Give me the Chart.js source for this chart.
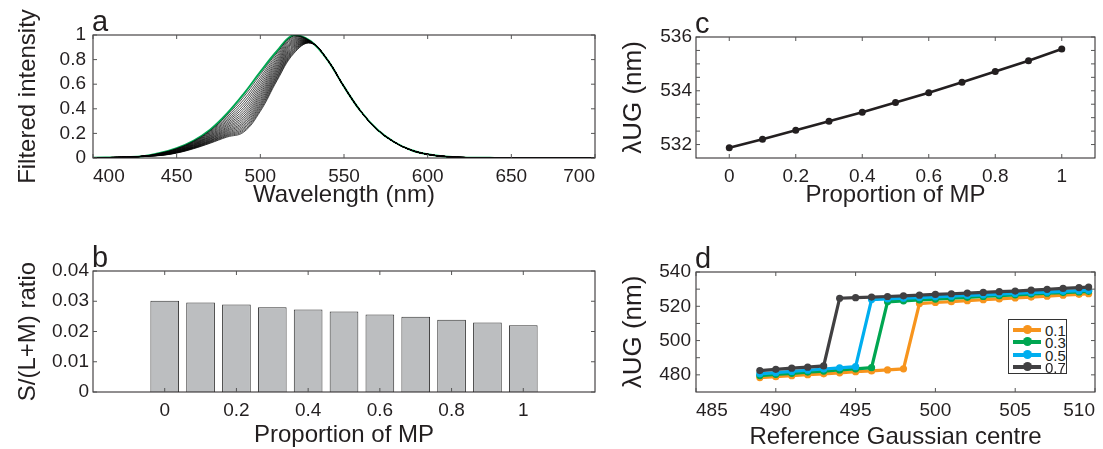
<!DOCTYPE html>
<html>
<head>
<meta charset="utf-8">
<title>Macular pigment filtering</title>
<script src="https://cdn.jsdelivr.net/npm/chart.js@4.4.0/dist/chart.umd.min.js"></script>
<style>
  body { margin: 0; background: #fff; }
  #fig { position: relative; width: 1103px; height: 449px; overflow: hidden; font-family: "Liberation Sans", Arial, sans-serif; color: #231f20; }
  .panel { position: absolute; }
  #legend { position: absolute; left: 1008px; top: 319px; width: 57px; height: 53px; border: 1px solid #333; background: #fff; font-size: 15px; }
  .row { position: absolute; left: 0; width: 57px; height: 12px; }
  .swatch { position: absolute; left: 4px; top: 4px; width: 28px; height: 4px; }
  .dot { position: absolute; left: 14px; top: 2px; width: 9px; height: 9px; border-radius: 50%; margin-top: -1px; }
  .row span { position: absolute; left: 36px; top: -1px; line-height: 15px; }
</style>
</head>
<body>
<div id="fig">
  <div class="panel" style="left:0;top:0"><canvas id="chartA" width="610" height="222"></canvas></div>
  <div class="panel" style="left:0;top:225px"><canvas id="chartB" width="610" height="224"></canvas></div>
  <div class="panel" style="left:610px;top:0"><canvas id="chartC" width="493" height="222"></canvas></div>
  <div class="panel" style="left:610px;top:225px"><canvas id="chartD" width="493" height="224"></canvas></div>
  <div id="legend"></div>
</div>
<script>
// ---- panel a: filtered spectra ----
const wlHead = [400, 420, 430];
const headVals = [0.002, 0.007, 0.014];
const wlFan = [440, 450, 460, 470, 480, 490, 500, 510, 520, 530];
const wlTail = [540, 550, 560, 570, 580, 590, 600, 610, 620, 640, 670, 700];
const tailVals = [0.80, 0.58, 0.38, 0.23, 0.13, 0.065, 0.03, 0.013, 0.005, 0.001, 0, 0];
const greenFan = [0.040, 0.080, 0.140, 0.230, 0.360, 0.520, 0.700, 0.870, 1.000, 0.950];
// one row per filtered curve, columns follow wlFan
const blackFan = [
  [0.039, 0.077, 0.136, 0.222, 0.346, 0.496, 0.678, 0.855, 0.992, 0.949],
  [0.037, 0.074, 0.131, 0.215, 0.333, 0.473, 0.656, 0.841, 0.983, 0.948],
  [0.036, 0.072, 0.127, 0.208, 0.320, 0.451, 0.636, 0.827, 0.975, 0.948],
  [0.035, 0.069, 0.123, 0.201, 0.307, 0.430, 0.616, 0.813, 0.966, 0.947],
  [0.033, 0.067, 0.119, 0.194, 0.296, 0.410, 0.596, 0.799, 0.958, 0.946],
  [0.032, 0.064, 0.115, 0.187, 0.284, 0.391, 0.577, 0.786, 0.950, 0.945],
  [0.031, 0.062, 0.111, 0.181, 0.273, 0.372, 0.559, 0.773, 0.942, 0.944],
  [0.030, 0.060, 0.108, 0.175, 0.263, 0.355, 0.541, 0.760, 0.934, 0.943],
  [0.029, 0.058, 0.104, 0.169, 0.252, 0.338, 0.524, 0.747, 0.926, 0.943],
  [0.028, 0.056, 0.101, 0.163, 0.243, 0.323, 0.508, 0.734, 0.918, 0.942],
  [0.027, 0.054, 0.098, 0.158, 0.233, 0.308, 0.492, 0.722, 0.910, 0.941],
  [0.026, 0.052, 0.094, 0.153, 0.224, 0.293, 0.476, 0.710, 0.903, 0.940],
  [0.025, 0.050, 0.091, 0.147, 0.216, 0.280, 0.461, 0.698, 0.895, 0.939],
  [0.024, 0.048, 0.088, 0.142, 0.207, 0.267, 0.446, 0.686, 0.887, 0.939],
  [0.023, 0.046, 0.086, 0.138, 0.199, 0.254, 0.432, 0.674, 0.880, 0.938],
  [0.022, 0.045, 0.083, 0.133, 0.191, 0.242, 0.419, 0.663, 0.872, 0.937],
  [0.022, 0.043, 0.080, 0.129, 0.184, 0.231, 0.405, 0.652, 0.865, 0.936],
  [0.021, 0.042, 0.078, 0.124, 0.177, 0.220, 0.392, 0.641, 0.857, 0.935],
  [0.020, 0.040, 0.075, 0.120, 0.170, 0.210, 0.380, 0.630, 0.850, 0.935]
];
const wlTicks = [400, 450, 500, 550, 600, 650, 700];
const intensityTicks = [0, 0.2, 0.4, 0.6, 0.8, 1];

// ---- panel b: S/(L+M) ratio ----
const mpProp = [0, 0.1, 0.2, 0.3, 0.4, 0.5, 0.6, 0.7, 0.8, 0.9, 1];
const sRatio = [0.0302, 0.0296, 0.0289, 0.0280, 0.0273, 0.0266, 0.0256, 0.0249, 0.0239, 0.0230, 0.0221];
const mpTicks = [0, 0.2, 0.4, 0.6, 0.8, 1];
const ratioTicks = [0, 0.01, 0.02, 0.03, 0.04];

// ---- panel c: unique green vs MP ----
const lambdaUG = [531.88, 532.2, 532.53, 532.87, 533.2, 533.56, 533.93, 534.32, 534.72, 535.12, 535.55];
const lambdaTicks = [532, 532.5, 533, 533.5, 534, 534.5, 535, 535.5, 536];

// ---- panel d: unique green vs reference Gaussian centre ----
const centres = [489, 490, 491, 492, 493, 494, 495, 496, 497, 498, 499, 500, 501, 502, 503, 504, 505, 506, 507, 508, 509, 509.6];
const ug01 = [478.4, 478.9, 479.5, 480.1, 480.6, 481.2, 481.8, 482.3, 482.9, 483.5,
  521.6, 522.2, 522.7, 523.3, 523.8, 524.3, 524.9, 525.4, 525.9, 526.5, 527.0, 527.3];
const ug03 = [479.6, 480.3, 480.9, 481.6, 482.2, 482.9, 483.5, 484.2,
  522.6, 523.2, 523.7, 524.2, 524.7, 525.2, 525.7, 526.2, 526.7, 527.1, 527.6, 528.0, 528.4, 528.7];
const ug05 = [480.6, 481.3, 482.0, 482.7, 483.4, 484.1, 484.8,
  523.9, 524.3, 524.7, 525.1, 525.5, 525.9, 526.3, 526.7, 527.1, 527.5, 527.9, 528.3, 528.7, 529.1, 529.4];
const ug07 = [482.5, 483.2, 483.9, 484.5, 485.2,
  524.7, 525.0, 525.4, 525.7, 526.1, 526.5, 526.9, 527.3, 527.7, 528.1, 528.5, 528.9, 529.4, 529.9, 530.4, 530.9, 531.2];
const seriesNames = ['0.1', '0.3', '0.5', '0.7'];
const seriesColors = ['#f7941d', '#00a651', '#00aeef', '#414042'];
const centreTicks = [485, 490, 495, 500, 505, 510];
const ugTicks = [480, 490, 500, 510, 520, 530, 540];

Chart.defaults.font.family = '"Liberation Sans", Arial, sans-serif';
Chart.defaults.color = '#231f20';

// MATLAB style box with inward ticks on all sides, plus the panel letter
const framePlugin = {
  id: 'frame',
  afterDraw(chart, args, opts) {
    const { ctx, chartArea: a } = chart;
    const x = chart.scales.x, y = chart.scales.y;
    ctx.save();
    ctx.strokeStyle = '#231f20';
    ctx.lineWidth = 1;
    ctx.strokeRect(a.left, a.top, a.width, a.height);
    ctx.strokeStyle = '#555';
    ctx.beginPath();
    x.ticks.forEach(t => {
      const p = x.getPixelForValue(t.value);
      ctx.moveTo(p, a.bottom); ctx.lineTo(p, a.bottom - 4);
      ctx.moveTo(p, a.top); ctx.lineTo(p, a.top + 4);
    });
    y.ticks.forEach(t => {
      const p = y.getPixelForValue(t.value);
      ctx.moveTo(a.left, p); ctx.lineTo(a.left + 4, p);
      ctx.moveTo(a.right, p); ctx.lineTo(a.right - 4, p);
    });
    ctx.stroke();
    ctx.fillStyle = '#231f20';
    ctx.font = '29px "Liberation Sans", Arial, sans-serif';
    ctx.textBaseline = 'alphabetic';
    ctx.fillText(opts.letter, a.left - 1, a.top - 4);
    ctx.restore();
  }
};

function makeScale(o) {
  return {
    type: 'linear',
    min: o.min,
    max: o.max,
    offset: false,
    grid: { display: false, drawTicks: false },
    border: { display: false },
    afterBuildTicks: s => { s.ticks = o.ticks.map(v => ({ value: v })); },
    afterFit: s => {
      if (o.width) s.width = o.width;
      if (o.height) s.height = o.height;
    },
    ticks: {
      autoSkip: false,
      maxRotation: 0,
      padding: o.pad,
      align: o.align || 'center',
      font: { size: 19 },
      callback: o.label || (v => String(v))
    },
    title: {
      display: true,
      text: o.title,
      font: { size: o.titleSize || 24 },
      padding: o.titlePad
    }
  };
}

function baseOptions(letter, padding, scales) {
  return {
    responsive: false,
    animation: false,
    layout: { padding: padding },
    plugins: { legend: { display: false }, tooltip: { enabled: false }, frame: { letter: letter } },
    scales: scales
  };
}

// panel a: green (unfiltered) underneath, filtered curves on top
const greenDataset = {
  data: wlHead.map((w, i) => ({ x: w, y: headVals[i] }))
    .concat(wlFan.map((w, i) => ({ x: w, y: greenFan[i] })))
    .concat(wlTail.map((w, i) => ({ x: w, y: tailVals[i] }))),
  borderColor: '#00a651',
  borderWidth: 2,
  pointRadius: 0,
  tension: 0.4,
  order: 1
};
const fanDatasets = blackFan.map(row => ({
  data: wlHead.map((w, i) => ({ x: w, y: headVals[i] }))
    .concat(wlFan.map((w, i) => ({ x: w, y: row[i] })))
    .concat(wlTail.map((w, i) => ({ x: w, y: tailVals[i] }))),
  borderColor: '#000',
  borderWidth: 0.7,
  pointRadius: 0,
  tension: 0.4,
  order: 0
}));

new Chart(document.getElementById('chartA'), {
  type: 'line',
  data: { datasets: [greenDataset].concat(fanDatasets) },
  options: baseOptions('a', { top: 35, right: 15, left: 0, bottom: 0 }, {
    x: makeScale({ min: 400, max: 700, ticks: wlTicks, height: 64, pad: 7, align: 'inner',
      title: 'Wavelength (nm)', titlePad: { top: 0, bottom: 12 } }),
    y: makeScale({ min: 0, max: 1, ticks: intensityTicks, width: 93, pad: 7,
      title: 'Filtered intensity', titlePad: { top: 14, bottom: 0 } })
  }),
  plugins: [framePlugin]
});

// panel b
new Chart(document.getElementById('chartB'), {
  type: 'bar',
  data: {
    datasets: [{
      data: mpProp.map((p, i) => ({ x: p, y: sRatio[i] })),
      backgroundColor: '#bcbec0',
      borderColor: '#333',
      borderWidth: 1,
      barPercentage: 0.8,
      categoryPercentage: 1
    }]
  },
  options: baseOptions('b', { top: 46, right: 15, left: 0, bottom: 0 }, {
    x: makeScale({ min: -0.2, max: 1.2, ticks: mpTicks, height: 57, pad: 7,
      title: 'Proportion of MP', titlePad: { top: 0, bottom: -1 } }),
    y: makeScale({ min: 0, max: 0.04, ticks: ratioTicks, width: 93, pad: 4,
      title: 'S/(L+M) ratio', titlePad: { top: 14, bottom: 0 } })
  }),
  plugins: [framePlugin]
});

// panel c
new Chart(document.getElementById('chartC'), {
  type: 'line',
  data: {
    datasets: [{
      data: mpProp.map((p, i) => ({ x: p, y: lambdaUG[i] })),
      borderColor: '#231f20',
      borderWidth: 2.6,
      pointRadius: 3.5,
      pointBorderWidth: 0,
      pointBackgroundColor: '#231f20'
    }]
  },
  options: baseOptions('c', { top: 37, right: 8, left: 0, bottom: 0 }, {
    x: makeScale({ min: -0.1, max: 1.1, ticks: mpTicks, height: 64, pad: 7,
      title: 'Proportion of MP', titlePad: { top: 0, bottom: 12 } }),
    y: makeScale({ min: 531.5, max: 536, ticks: lambdaTicks, width: 86, pad: 4,
      label: v => (v % 2 === 0 ? String(v) : ''),
      title: 'λUG (nm)', titleSize: 26, titlePad: { top: 8, bottom: 0 } })
  }),
  plugins: [framePlugin]
});

// panel d
const ugSeries = [ug01, ug03, ug05, ug07];
new Chart(document.getElementById('chartD'), {
  type: 'line',
  data: {
    datasets: ugSeries.map((vals, s) => ({
      label: seriesNames[s],
      data: centres.map((c, i) => ({ x: c, y: vals[i] })),
      borderColor: seriesColors[s],
      backgroundColor: seriesColors[s],
      borderWidth: 3.2,
      pointRadius: 3.6,
      pointBorderWidth: 0,
      order: 3 - s
    }))
  },
  options: baseOptions('d', { top: 47, right: 8, left: 0, bottom: 0 }, {
    x: makeScale({ min: 485, max: 510, ticks: centreTicks, height: 57, pad: 7, align: 'inner',
      title: 'Reference Gaussian centre', titlePad: { top: 0, bottom: -3 } }),
    y: makeScale({ min: 470, max: 540, ticks: ugTicks, width: 86, pad: 5,
      label: v => (v % 20 === 0 ? String(v) : ''),
      title: 'λUG (nm)', titleSize: 26, titlePad: { top: 8, bottom: 0 } })
  }),
  plugins: [framePlugin]
});

// legend for panel d
const legend = document.getElementById('legend');
seriesNames.forEach((name, s) => {
  const row = document.createElement('div');
  row.className = 'row';
  row.style.top = (4 + s * 12.4) + 'px';
  row.innerHTML = '<div class="swatch" style="background:' + seriesColors[s] + '"></div>' +
    '<div class="dot" style="background:' + seriesColors[s] + '"></div><span>' + name + '</span>';
  legend.appendChild(row);
});
</script>
</body>
</html>
